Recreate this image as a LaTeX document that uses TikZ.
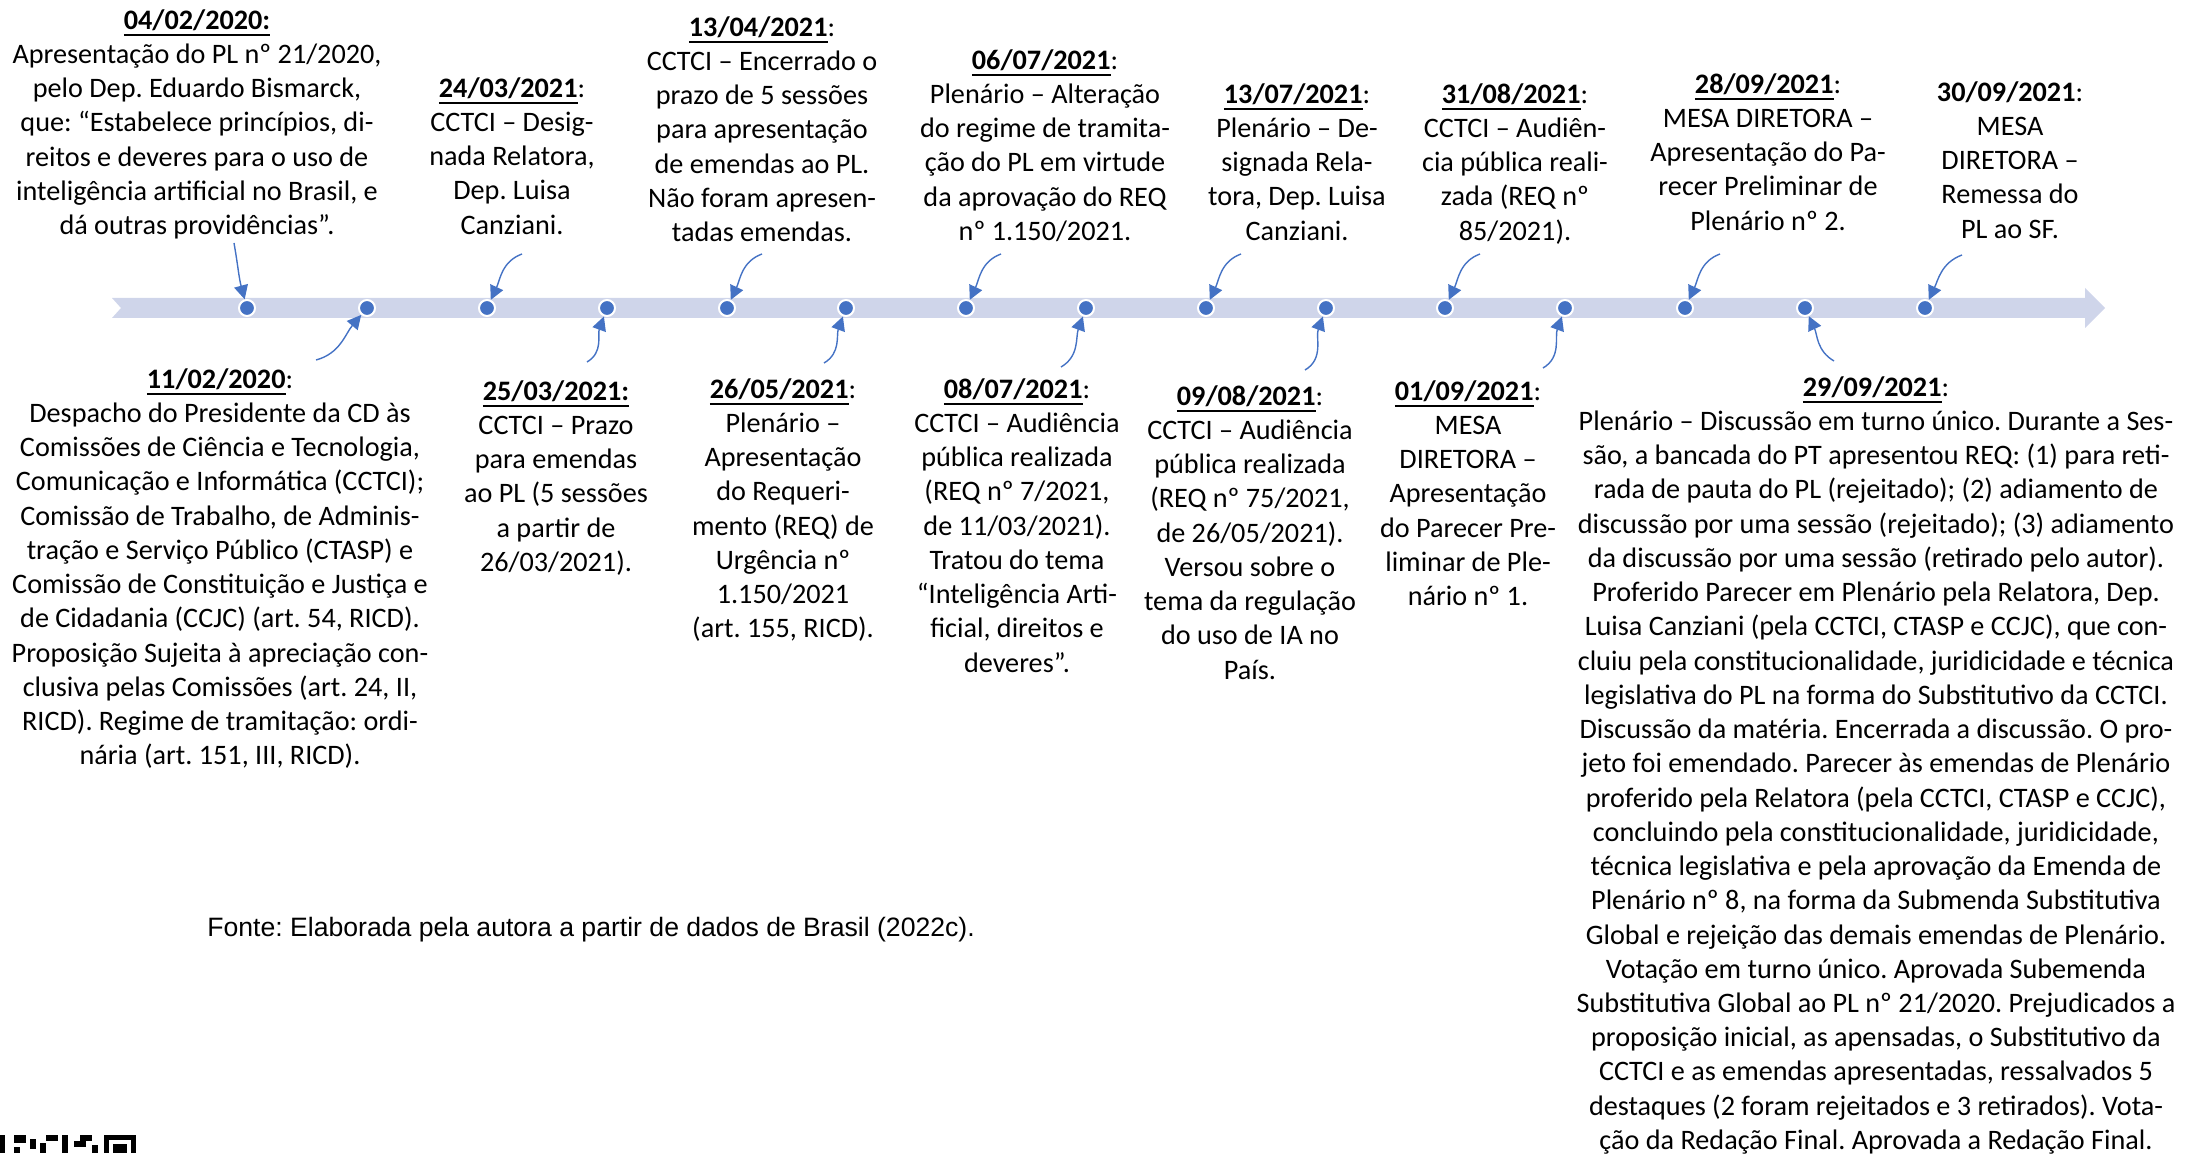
\documentclass[tikz,border=0pt]{standalone}
\usepackage{fontspec}
\setmainfont{Carlito}
\newfontfamily\fontefam{Liberation Sans}
\definecolor{barraazul}{RGB}{207, 213, 234}
\definecolor{marcoazul}{RGB}{68, 114, 196}
\usetikzlibrary{arrows.meta}
\frenchspacing
\newcommand{\evfont}{\fontsize{14.1}{17.12}\selectfont}
\newcommand{\fontefont}{\fontefam\fontsize{13.3}{16}\selectfont}
\newcommand{\sublinha}[1]{\setbox0\hbox{#1}\rlap{\rule[-3.3pt]{\wd0}{1.1pt}}\box0}

\begin{document}
\begin{tikzpicture}[x=0.5pt, y=0.5pt,
    evento/.style={align=center, anchor=north, inner sep=0pt, font=\evfont},
    marco/.style={circle, fill=marcoazul, draw=white, line width=1pt, minimum size=8pt, inner sep=0pt},
    seta/.style={draw=marcoazul, line width=0.7pt, -{Triangle[length=7pt, width=7pt]}}]
                \useasboundingbox (0,0) rectangle (2192,1153);

                % Barra da linha do tempo
                \fill[barraazul] (112,855) -- (2085,855) -- (2085,865) -- (2105,845) -- (2085,825) -- (2085,835) -- (112,835) -- (121,845) -- cycle;

                % Marcos
                \node[marco] (m1) at (247,845) {};
                \node[marco] (m2) at (367,845) {};
                \node[marco] (m3) at (487,845) {};
                \node[marco] (m4) at (607,845) {};
                \node[marco] (m5) at (727,845) {};
                \node[marco] (m6) at (846,845) {};
                \node[marco] (m7) at (966,845) {};
                \node[marco] (m8) at (1086,845) {};
                \node[marco] (m9) at (1206,845) {};
                \node[marco] (m10) at (1326,845) {};
                \node[marco] (m11) at (1445,845) {};
                \node[marco] (m12) at (1565,845) {};
                \node[marco] (m13) at (1685,845) {};
                \node[marco] (m14) at (1805,845) {};
                \node[marco] (m15) at (1925,845) {};

                % Eventos acima da barra
                \node[evento] (t1) at (197,1144) {\sublinha{\textbf{04/02/2020:}}\\Apresentação do PL nº 21/2020,\\pelo Dep. Eduardo Bismarck,\\que: “Estabelece princípios, di-\\reitos e deveres para o uso de\\inteligência artificial no Brasil, e\\dá outras providências”.};
                \node[evento] (t3) at (512,1076) {\sublinha{\textbf{24/03/2021}}:\\CCTCI – Desig-\\nada Relatora,\\Dep. Luisa\\Canziani.};
                \node[evento] (t5) at (762,1137) {\sublinha{\textbf{13/04/2021}}:\\CCTCI – Encerrado o\\prazo de 5 sessões\\para apresentação\\de emendas ao PL.\\Não foram apresen-\\tadas emendas.};
                \node[evento] (t7) at (1045,1104) {\sublinha{\textbf{06/07/2021}}:\\Plenário – Alteração\\do regime de tramita-\\ção do PL em virtude\\da aprovação do REQ\\nº 1.150/2021.};
                \node[evento] (t9) at (1297,1070) {\sublinha{\textbf{13/07/2021}}:\\Plenário – De-\\signada Rela-\\tora, Dep. Luisa\\Canziani.};
                \node[evento] (t11) at (1515,1070) {\sublinha{\textbf{31/08/2021}}:\\CCTCI – Audiên-\\cia pública reali-\\zada (REQ nº\\85/2021).};
                \node[evento] (t13) at (1768,1080) {\sublinha{\textbf{28/09/2021}}:\\MESA DIRETORA –\\Apresentação do Pa-\\recer Preliminar de\\Plenário nº 2.};
                \node[evento] (t15) at (2010,1072) {\textbf{30/09/2021}:\\MESA\\DIRETORA –\\Remessa do\\PL ao SF.};

                % Eventos abaixo da barra
                \node[evento] (t2) at (220,785) {\sublinha{\textbf{11/02/2020}}:\\Despacho do Presidente da CD às\\Comissões de Ciência e Tecnologia,\\Comunicação e Informática (CCTCI);\\Comissão de Trabalho, de Adminis-\\tração e Serviço Público (CTASP) e\\Comissão de Constituição e Justiça e\\de Cidadania (CCJC) (art. 54, RICD).\\Proposição Sujeita à apreciação con-\\clusiva pelas Comissões (art. 24, II,\\RICD). Regime de tramitação: ordi-\\nária (art. 151, III, RICD).};
                \node[evento] (t4) at (556,773) {\sublinha{\textbf{25/03/2021:}}\\CCTCI – Prazo\\para emendas\\ao PL (5 sessões\\a partir de\\26/03/2021).};
                \node[evento] (t6) at (783,775) {\sublinha{\textbf{26/05/2021}}:\\Plenário –\\Apresentação\\do Requeri-\\mento (REQ) de\\Urgência nº\\1.150/2021\\(art. 155, RICD).};
                \node[evento] (t8) at (1017,775) {\sublinha{\textbf{08/07/2021}}:\\CCTCI – Audiência\\pública realizada\\(REQ nº 7/2021,\\de 11/03/2021).\\Tratou do tema\\“Inteligência Arti-\\ficial, direitos e\\deveres”.};
                \node[evento] (t10) at (1250,768) {\sublinha{\textbf{09/08/2021}}:\\CCTCI – Audiência\\pública realizada\\(REQ nº 75/2021,\\de 26/05/2021).\\Versou sobre o\\tema da regulação\\do uso de IA no\\País.};
                \node[evento] (t12) at (1468,773) {\sublinha{\textbf{01/09/2021}}:\\MESA\\DIRETORA –\\Apresentação\\do Parecer Pre-\\liminar de Ple-\\nário nº 1.};
                \node[evento] (t14) at (1876,777) {\sublinha{\textbf{29/09/2021}}:\\Plenário – Discussão em turno único. Durante a Ses-\\são, a bancada do PT apresentou REQ: (1) para reti-\\rada de pauta do PL (rejeitado); (2) adiamento de\\discussão por uma sessão (rejeitado); (3) adiamento\\da discussão por uma sessão (retirado pelo autor).\\Proferido Parecer em Plenário pela Relatora, Dep.\\Luisa Canziani (pela CCTCI, CTASP e CCJC), que con-\\cluiu pela constitucionalidade, juridicidade e técnica\\legislativa do PL na forma do Substitutivo da CCTCI.\\Discussão da matéria. Encerrada a discussão. O pro-\\jeto foi emendado. Parecer às emendas de Plenário\\proferido pela Relatora (pela CCTCI, CTASP e CCJC),\\concluindo pela constitucionalidade, juridicidade,\\técnica legislativa e pela aprovação da Emenda de\\Plenário nº 8, na forma da Submenda Substitutiva\\Global e rejeição das demais emendas de Plenário.\\Votação em turno único. Aprovada Subemenda\\Substitutiva Global ao PL nº 21/2020. Prejudicados a\\proposição inicial, as apensadas, o Substitutivo da\\CCTCI e as emendas apresentadas, ressalvados 5\\destaques (2 foram rejeitados e 3 retirados). Vota-\\ção da Redação Final. Aprovada a Redação Final.};

                % Fonte
                \node[anchor=west, inner sep=0pt, font=\fontefont] (fonte) at (207,223) {Fonte: Elaborada pela autora a partir de dados de Brasil (2022c).};

                % Fragmento de QR code no canto
                \fill (0,0) rectangle (5,18);
                \fill (14,0) rectangle (20,6);
                \fill (14,10) rectangle (26,18);
                \fill (30,4) rectangle (36,14);
                \fill (40,0) rectangle (46,10);
                \fill (46,12) rectangle (58,18);
                \fill (62,0) rectangle (68,18);
                \fill (74,6) rectangle (86,12);
                \fill (80,12) rectangle (92,18);
                \fill (92,0) rectangle (98,8);
                \fill (104,0) rectangle (136,18);
                \fill[white] (109,0) rectangle (131,13);
                \fill (113,0) rectangle (127,9);

                % Pontas livres das setas
                \coordinate (c1) at (234,910);
                \coordinate (c2) at (316,793);
                \coordinate (c3) at (522,899);
                \coordinate (c4) at (587,791);
                \coordinate (c5) at (762,899);
                \coordinate (c6) at (824,790);
                \coordinate (c7) at (1001,899);
                \coordinate (c8) at (1061,786);
                \coordinate (c9) at (1241,899);
                \coordinate (c10) at (1305,783);
                \coordinate (c11) at (1480,899);
                \coordinate (c12) at (1543,785);
                \coordinate (c13) at (1720,899);
                \coordinate (c14) at (1834,792);
                \coordinate (c15) at (1962,898);

                % Setas
                \draw[seta] (c1) to[out=-80, in=105] (m1);
                \draw[seta] (c2) to[out=15, in=-130] (m2);
                \draw[seta] (c3) to[out=200, in=65] (m3);
                \draw[seta] (c4) to[out=30, in=-110] (m4);
                \draw[seta] (c5) to[out=200, in=65] (m5);
                \draw[seta] (c6) to[out=30, in=-110] (m6);
                \draw[seta] (c7) to[out=200, in=65] (m7);
                \draw[seta] (c8) to[out=30, in=-110] (m8);
                \draw[seta] (c9) to[out=200, in=65] (m9);
                \draw[seta] (c10) to[out=30, in=-110] (m10);
                \draw[seta] (c11) to[out=200, in=65] (m11);
                \draw[seta] (c12) to[out=30, in=-110] (m12);
                \draw[seta] (c13) to[out=200, in=65] (m13);
                \draw[seta] (c14) to[out=150, in=-65] (m14);
                \draw[seta] (c15) to[out=200, in=65] (m15);
            \end{tikzpicture}
\end{document}
